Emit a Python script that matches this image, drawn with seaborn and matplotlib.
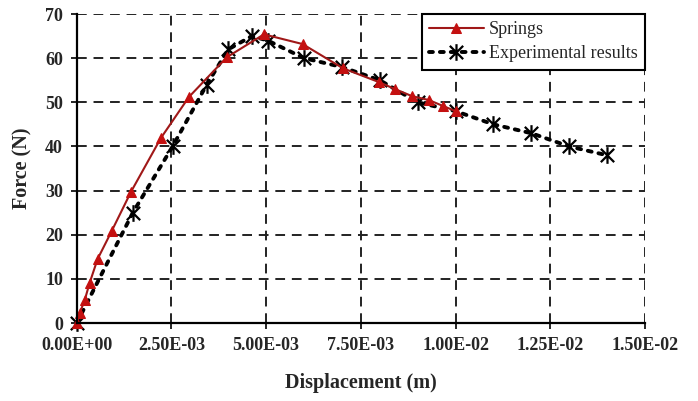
import matplotlib
matplotlib.use("Agg")
import matplotlib.pyplot as plt
from matplotlib.path import Path
import seaborn as sns
import pandas as pd

# Data
springs_x = [0.0, 0.08e-3, 0.21e-3, 0.34e-3, 0.55e-3, 0.92e-3, 1.43e-3, 2.22e-3, 2.96e-3,
             3.96e-3, 4.94e-3, 5.96e-3, 7.03e-3, 7.97e-3, 8.4e-3, 8.85e-3, 9.3e-3, 9.66e-3, 10.0e-3]
springs_y = [0.0, 2.3, 5.2, 9.1, 14.5, 20.8, 29.7, 41.9, 51.2,
             60.2, 65.4, 63.2, 57.7, 54.6, 53.0, 51.4, 50.5, 49.2, 48.0]

exp_x = [0.0, 1.48e-3, 2.53e-3, 3.43e-3, 4.0e-3, 4.62e-3, 5.04e-3, 6.0e-3, 7.0e-3,
         8.0e-3, 9.0e-3, 10.0e-3, 11.0e-3, 12.0e-3, 13.0e-3, 14.0e-3]
exp_y = [0.0, 25, 40, 54, 62, 65, 64, 60, 58, 55, 50, 48, 45, 43, 40, 38]

x_ticks = [0.0, 0.0025, 0.005, 0.0075, 0.01, 0.0125, 0.015]
x_ticklabels = ["0.00E+00", "2.50E-03", "5.00E-03", "7.50E-03", "1.00E-02", "1.25E-02", "1.50E-02"]
y_ticks = [0, 10, 20, 30, 40, 50, 60, 70]

sns.set_style("white")
plt.rcParams["font.family"] = ["Liberation Serif", "DejaVu Serif"]

fig = plt.figure(figsize=(6.98, 4.01), dpi=100)
ax = fig.add_axes([0.110, 0.1945, 0.814, 0.7705])

df_s = pd.DataFrame({"x": springs_x, "y": springs_y})
df_e = pd.DataFrame({"x": exp_x, "y": exp_y})

asterisk = Path([(-1, -1), (1, 1), (-1, 1), (1, -1), (0, -1.25), (0, 1.25)],
                [Path.MOVETO, Path.LINETO, Path.MOVETO, Path.LINETO, Path.MOVETO, Path.LINETO])

sns.lineplot(data=df_s, x="x", y="y", ax=ax, sort=False, color="#a01818", lw=1.5,
             marker="^", markersize=7, markerfacecolor="#c41010", markeredgecolor="#c41010",
             label="Springs", zorder=4)
sns.lineplot(data=df_e, x="x", y="y", ax=ax, sort=False, color="black", lw=2.8,
             linestyle=(0, (1, 1.8)), dash_capstyle="round",
             marker=asterisk, markersize=12, markeredgewidth=1.6, markerfacecolor="none",
             markeredgecolor="black", label="Experimental results", zorder=3)

ax.set_xlim(0, 0.015)
ax.set_ylim(0, 70)
ax.set_xticks(x_ticks)
ax.set_xticklabels(x_ticklabels)
ax.set_yticks(y_ticks)

ax.grid(True, color="#222222", linestyle=(0, (5, 3.5)), linewidth=1.4)
ax.set_axisbelow(True)
for s in ["top", "right"]:
    ax.spines[s].set_visible(False)
for s in ["left", "bottom"]:
    ax.spines[s].set_color("black")
    ax.spines[s].set_linewidth(1.6)
    ax.spines[s].set_zorder(5)

ax.tick_params(axis="both", which="major", direction="out", length=4, width=1.2,
               color="black", labelsize=13, pad=6, bottom=True, left=True)
for lab in ax.get_xticklabels() + ax.get_yticklabels():
    lab.set_fontweight("bold")

ax.set_xlabel("Displacement (m)", fontsize=14.5, fontweight="bold", labelpad=14)
ax.set_ylabel("Force (N)", fontsize=14.5, fontweight="bold", labelpad=9)

leg = ax.legend(loc="upper right", borderaxespad=0, fancybox=False, framealpha=1,
                edgecolor="black", fontsize=13, handlelength=3.0, borderpad=0.4,
                labelspacing=0.4, handletextpad=0.3)
leg.get_frame().set_linewidth(1.5)
for line in ax.get_lines():
    line.set_clip_on(False)

fig.savefig("out.png", dpi=100, facecolor="white")
